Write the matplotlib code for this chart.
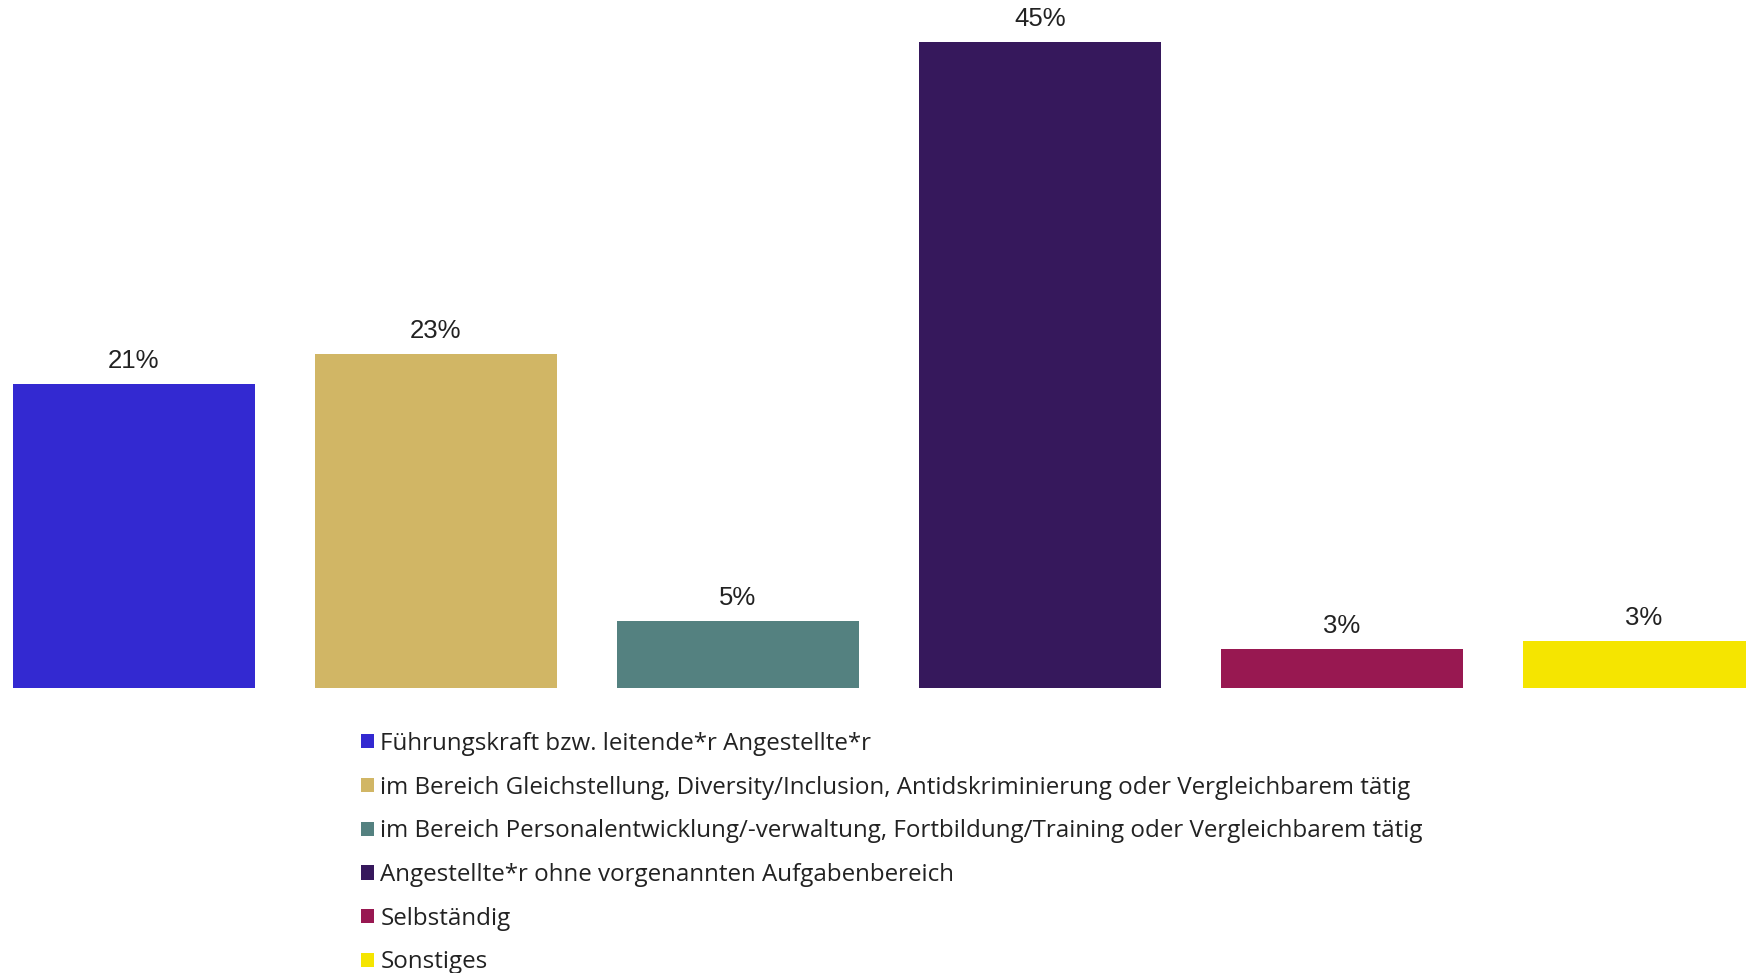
import matplotlib
matplotlib.use("Agg")
import matplotlib.pyplot as plt
import numpy as np

categories = [
    "Führungskraft bzw. leitende*r Angestellte*r",
    "im Bereich Gleichstellung, Diversity/Inclusion, Antidskriminierung oder Vergleichbarem tätig",
    "im Bereich Personalentwicklung/-verwaltung, Fortbildung/Training oder Vergleichbarem tätig",
    "Angestellte*r ohne vorgenannten Aufgabenbereich",
    "Selbständig",
    "Sonstiges",
]
shares = [21.2, 23.3, 4.7, 45.0, 2.7, 3.3]
colors = ["#3329D1", "#D1B665", "#548180", "#36185C", "#981851", "#F5E500"]

W, H = 1746, 973
fig = plt.figure(figsize=(W / 100, H / 100), dpi=100)
base_px = 688
ax = fig.add_axes([0, 1 - base_px / H, 1, base_px / H])

x = np.arange(len(categories))
bars = ax.bar(x, shares, width=0.8, color=colors, label=categories)

pitch_px = 302
ax.set_xlim(-0.4 - 13 / pitch_px, -0.4 + (W - 13) / pitch_px)
ax.set_ylim(0, 45 * base_px / 646)
ax.axis("off")

for xi, v in zip(x, shares):
    ax.annotate(f"{v:.0f}%", (xi, v), xytext=(0, 16.5), textcoords="offset points",
                ha="center", va="center", fontsize=18.5, color="#222222",
                family="Liberation Sans")

fig.legend(handles=list(bars), labels=categories, loc="upper left",
           bbox_to_anchor=(361 / W, 1 - 732 / H), frameon=False,
           prop={"family": "Open Sans", "size": 17.4}, labelcolor="#222222",
           handlelength=0.52, handleheight=0.52, handletextpad=0.28,
           labelspacing=0.815, borderaxespad=0, borderpad=0)

fig.savefig("out.png", dpi=100, facecolor="white")
